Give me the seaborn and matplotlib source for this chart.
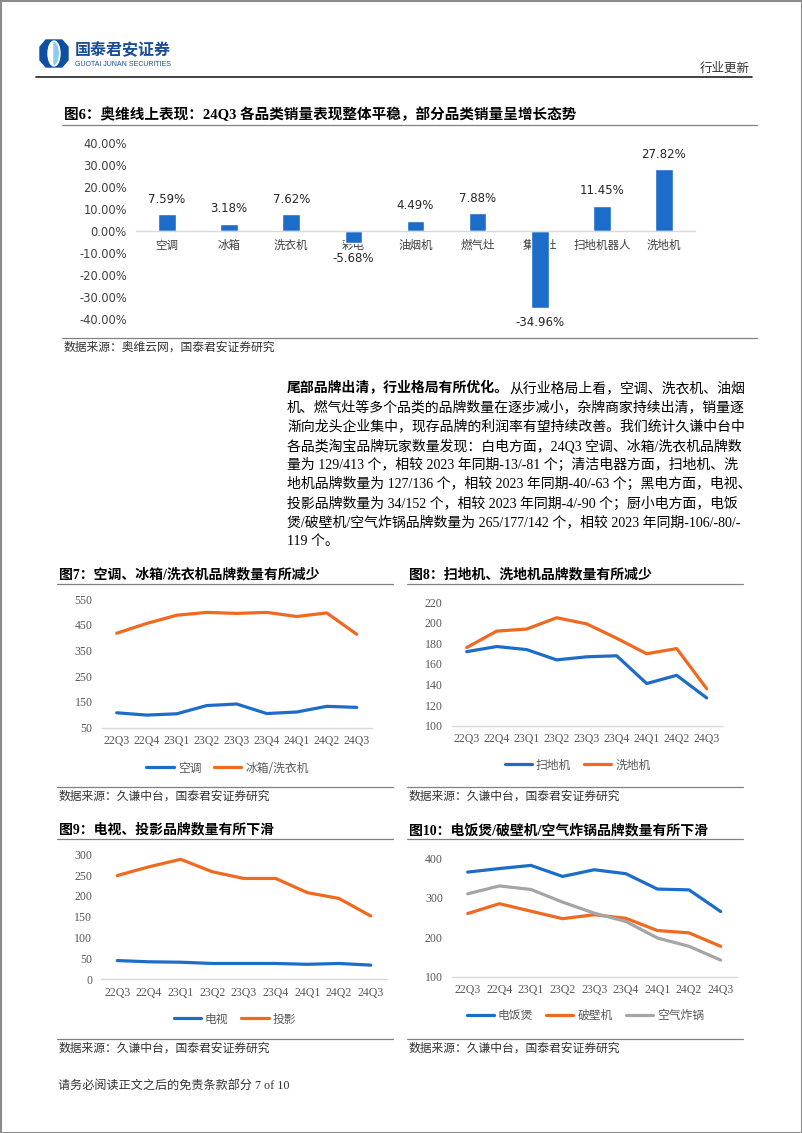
import numpy as np
import pandas as pd
import matplotlib
matplotlib.use("Agg")
import matplotlib.pyplot as plt
import seaborn as sns
from matplotlib.lines import Line2D
from matplotlib.patches import Polygon, Ellipse, Rectangle
from matplotlib.font_manager import FontProperties
from matplotlib.ticker import FuncFormatter

W, H = 802, 1133

# 图6 奥维线上 24Q3 销量同比
cats6 = ["空调", "冰箱", "洗衣机", "彩电", "油烟机", "燃气灶", "集成灶", "扫地机器人", "洗地机"]
vals6 = [7.59, 3.18, 7.62, -5.68, 4.49, 7.88, -34.96, 11.45, 27.82]

quarters = ["22Q3", "22Q4", "23Q1", "23Q2", "23Q3", "23Q4", "24Q1", "24Q2", "24Q3"]
# 图7
ac = [108, 99, 104, 136, 142, 105, 111, 133, 129]
fridge_wash = [417, 455, 487, 498, 494, 498, 482, 496, 413]
# 图8
sweeper = [172, 177, 174, 164, 167, 168, 141, 149, 127]
floor_wash = [176, 192, 194, 205, 199, 185, 170, 175, 136]
# 图9
tv = [45, 42, 41, 38, 38, 38, 36, 38, 34]
projector = [249, 270, 288, 258, 242, 242, 208, 194, 152]
# 图10
rice_cooker = [365, 374, 382, 354, 371, 361, 322, 320, 265]
blender = [260, 285, 266, 247, 257, 248, 217, 211, 177]
air_fryer = [310, 330, 321, 289, 261, 240, 198, 177, 142]

paragraph = [
    "机、燃气灶等多个品类的品牌数量在逐步减小，杂牌商家持续出清，销量逐",
    "渐向龙头企业集中，现存品牌的利润率有望持续改善。我们统计久谦中台中",
    "各品类淘宝品牌玩家数量发现：白电方面，24Q3 空调、冰箱/洗衣机品牌数",
    "量为 129/413 个，相较 2023 年同期-13/-81 个；清洁电器方面，扫地机、洗",
    "地机品牌数量为 127/136 个，相较 2023 年同期-40/-63 个；黑电方面，电视、",
    "投影品牌数量为 34/152 个，相较 2023 年同期-4/-90 个；厨小电方面，电饭",
    "煲/破壁机/空气炸锅品牌数量为 265/177/142 个，相较 2023 年同期-106/-80/-",
    "119 个。",
]

BLUE = "#1C6DC9"
ORANGE = "#F0691F"
GRAY = "#A5A5A5"
SERIF = ["Liberation Serif", "Noto Sans CJK SC"]
NUM = ["DejaVu Sans", "Noto Sans CJK SC"]
CJK = ["Noto Sans CJK SC", "DejaVu Sans"]

sns.set_theme(style="white")
plt.rcParams["font.family"] = SERIF
plt.rcParams["axes.unicode_minus"] = False

fig = plt.figure(figsize=(W / 100, H / 100), dpi=100)


def box(x0, y0, x1, y1):
    return [x0 / W, 1 - y1 / H, (x1 - x0) / W, (y1 - y0) / H]


# 背景层，用像素坐标写字画线
bg = fig.add_axes([0, 0, 1, 1], zorder=0)
bg.set_xlim(0, W)
bg.set_ylim(H, 0)
bg.axis("off")
bg.add_patch(Rectangle((0.5, 0.5), W - 1, H - 1, fill=False, ec="#8c8c8c", lw=1.5))

# 页眉
bg.add_patch(Polygon([[46, 40], [62, 40], [68, 47], [68, 60], [62, 67], [46, 67], [40, 60], [40, 47]],
                     closed=True, color="#0D4FA3"))
bg.add_patch(Ellipse((54, 53.5), 12, 25, color="white"))
bg.add_patch(Polygon([[54, 42], [57, 46], [58.5, 53.5], [57, 61], [54, 65]], closed=True, color="#8CCBF0"))
bg.text(75, 50, "国泰君安证券", family=CJK, weight="bold", fontsize=11.5, color="#1A4D98", va="center")
bg.text(75, 64, "GUOTAI JUNAN SECURITIES", family=["Liberation Sans"], fontsize=5.0,
        color="#1A4D98", va="center")
bg.text(750, 68, "行业更新", family=CJK, fontsize=9, color="#333333", ha="right", va="center")
bg.plot([36, 752], [77, 77], color="#222222", lw=1.2)


def title_block(x0, x1, ytitle, yline, text, fs=10):
    bg.text(x0 + 2, ytitle, text, weight="bold", fontsize=fs, color="black", va="center", family=SERIF)
    bg.plot([x0, x1], [yline, yline], color="#808080", lw=0.9)


def source_block(x0, x1, yline, ytext, text):
    bg.plot([x0, x1], [yline, yline], color="#808080", lw=0.9)
    bg.text(x0 + 2, ytext, text, fontsize=8.5, color="#333333", va="center", family=CJK)


# 图6
title_block(62, 757, 115, 124.5, "图6：奥维线上表现：24Q3 各品类销量表现整体平稳，部分品类销量呈增长态势", fs=10.5)
source_block(62, 757, 338, 347, "数据来源：奥维云网，国泰君安证券研究")

ax6 = fig.add_axes(box(136, 142.7, 695, 318.7), zorder=1)
ax6.set_facecolor("none")
sns.barplot(x=cats6, y=vals6, color=BLUE, saturation=1, width=0.285, ax=ax6)
ax6.set_xlim(-0.5, 8.5)
ax6.set_ylim(-40, 40)
ax6.set_yticks(np.arange(-40, 41, 10))
ax6.yaxis.set_major_formatter(FuncFormatter(lambda v, _: f"{v:.2f}%"))
for s in ["top", "right", "left"]:
    ax6.spines[s].set_visible(False)
ax6.spines["bottom"].set_position(("data", 0))
ax6.spines["bottom"].set_color("#D9D9D9")
ax6.spines["bottom"].set_linewidth(1)
ax6.tick_params(axis="x", length=0, pad=6, labelsize=8.3, colors="#404040")
ax6.tick_params(axis="y", length=0, pad=6.5, labelsize=8.3, colors="#404040")
for lab in ax6.get_xticklabels():
    lab.set_fontfamily(CJK)
for lab in ax6.get_yticklabels():
    lab.set_fontfamily(NUM)
ax6.bar_label(ax6.containers[0], labels=[f"{v:.2f}%" for v in vals6], padding=6,
              fontsize=8.5, family=NUM, color="#262626")
ax6.set_xlabel("")
ax6.set_ylabel("")

# 正文
y0, dy = 388, 19.25
lead = bg.text(287, y0, "尾部品牌出清，行业格局有所优化。", weight="bold", fontsize=10,
               color="black", va="center", family=SERIF)
bg.annotate("从行业格局上看，空调、洗衣机、油烟", xy=(1, 0.5), xycoords=lead, va="center",
            fontsize=10, color="black", family=SERIF)
for i, line in enumerate(paragraph):
    bg.text(287, y0 + (i + 1) * dy, line, fontsize=10, color="black", va="center", family=SERIF)


def line_chart(x_first, x_last, y_top, y_bot, ylim, yticks, series, names, colors, leg_y):
    step = (x_last - x_first) / 8
    ax = fig.add_axes(box(x_first - step / 2, y_top, x_last + step / 2, y_bot), zorder=1)
    ax.set_facecolor("none")
    df = pd.DataFrame({
        "季度": quarters * len(series),
        "数量": np.concatenate(series),
        "品类": np.repeat(names, len(quarters)),
    })
    sns.lineplot(data=df, x="季度", y="数量", hue="品类", palette=colors, linewidth=2.3,
                 sort=False, legend=False, ax=ax)
    ax.set_xlim(-0.5, 8.5)
    ax.set_ylim(*ylim)
    ax.set_yticks(yticks)
    for s in ["top", "right", "left"]:
        ax.spines[s].set_visible(False)
    ax.spines["bottom"].set_color("#D9D9D9")
    ax.spines["bottom"].set_linewidth(1)
    ax.tick_params(axis="x", length=0, pad=5.5, labelsize=8.6, colors="#595959")
    ax.tick_params(axis="y", length=0, pad=6.5, labelsize=8.6, colors="#595959")
    ax.set_xlabel("")
    ax.set_ylabel("")
    handles = [Line2D([0], [0], color=c, lw=2.3) for c in colors]
    cx = (x_first + x_last) / 2 - 9
    fig.legend(handles, names, loc="center", bbox_to_anchor=(cx / W, 1 - leg_y / H), ncol=len(names),
               frameon=False, handlelength=2.3, handletextpad=0.35, columnspacing=1.1,
               prop=FontProperties(family=CJK, size=8.5), labelcolor="#595959")
    return ax


# 图7
title_block(57, 393, 575, 583.5, "图7：空调、冰箱/洗衣机品牌数量有所减少")
line_chart(116.7, 356.7, 599, 727.7, (50, 550), range(50, 551, 100),
           [ac, fridge_wash], ["空调", "冰箱/洗衣机"], [BLUE, ORANGE], 768)
source_block(57, 393, 787, 796, "数据来源：久谦中台，国泰君安证券研究")

# 图8
title_block(407, 743, 575, 583.5, "图8：扫地机、洗地机品牌数量有所减少")
line_chart(466.7, 706.7, 602.3, 725.7, (100, 220), range(100, 221, 20),
           [sweeper, floor_wash], ["扫地机", "洗地机"], [BLUE, ORANGE], 765)
source_block(407, 743, 787, 796, "数据来源：久谦中台，国泰君安证券研究")

# 图9
title_block(57, 393, 830, 839, "图9：电视、投影品牌数量有所下滑")
line_chart(117.3, 370.7, 854.3, 979.3, (0, 300), range(0, 301, 50),
           [tv, projector], ["电视", "投影"], [BLUE, ORANGE], 1019)
source_block(57, 393, 1039, 1048, "数据来源：久谦中台，国泰君安证券研究")

# 图10
title_block(407, 743, 830, 839, "图10：电饭煲/破壁机/空气炸锅品牌数量有所下滑")
line_chart(467.7, 720.7, 858.3, 976.7, (100, 400), range(100, 401, 100),
           [rice_cooker, blender, air_fryer], ["电饭煲", "破壁机", "空气炸锅"], [BLUE, ORANGE, GRAY], 1015.7)
source_block(407, 743, 1039, 1048, "数据来源：久谦中台，国泰君安证券研究")

# 页脚
bg.text(58, 1086, "请务必阅读正文之后的免责条款部分 7 of 10", fontsize=8.7, color="#333333",
        va="center", family=SERIF)

fig.savefig("out.png", dpi=100)
